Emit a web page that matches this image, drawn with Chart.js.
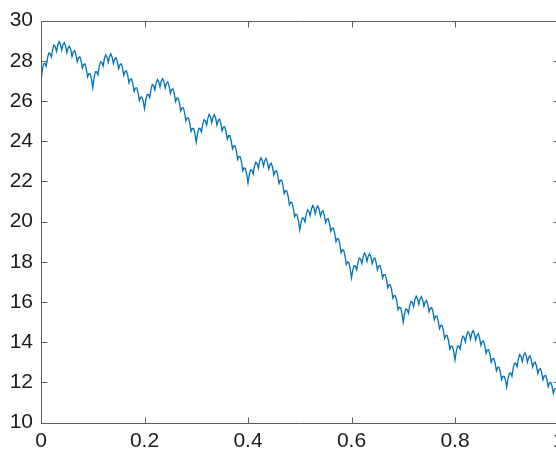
<!DOCTYPE html>
<html>
<head>
<meta charset="utf-8">
<script src="https://cdn.jsdelivr.net/npm/chart.js@4/dist/chart.umd.min.js"></script>
<style>
  html, body { margin: 0; padding: 0; background: #fff; overflow: hidden; }
  #wrap { width: 556px; height: 453px; overflow: hidden; }
  canvas { display: block; }
</style>
</head>
<body>
<div id="wrap"><canvas id="c" width="576" height="453"></canvas></div>
<script>
// ── Axis ticks ───────────────────────────────────────────────
const xTicks = [0, 0.2, 0.4, 0.6, 0.8, 1];
const yTicks = [10, 12, 14, 16, 18, 20, 22, 24, 26, 28, 30];

// ── Curve, sampled every 0.0025 on x (one row per 0.1 span) ──
const sampleStep = 0.0025;
const curveY = [
  27.00, 27.51, 27.85, 27.87, 27.72, 28.13, 28.38, 28.36, 28.18, 28.56, 28.78, 28.71, 28.47, 28.79, 28.95, 28.82, 28.53, 28.80, 28.90, 28.74, 28.41, 28.65, 28.72, 28.55, 28.21, 28.44, 28.50, 28.31, 27.95, 28.16, 28.20, 28.00, 27.63, 27.82, 27.85, 27.61, 27.20, 27.36, 27.35, 27.09,
  26.66, 27.14, 27.45, 27.46, 27.30, 27.71, 27.95, 27.92, 27.73, 28.10, 28.30, 28.19, 27.92, 28.21, 28.34, 28.18, 27.85, 28.08, 28.15, 27.96, 27.60, 27.81, 27.85, 27.65, 27.28, 27.47, 27.50, 27.28, 26.90, 27.08, 27.09, 26.86, 26.47, 26.64, 26.65, 26.42, 26.02, 26.19, 26.19, 25.99,
  25.62, 26.05, 26.32, 26.33, 26.17, 26.58, 26.82, 26.77, 26.55, 26.89, 27.07, 26.97, 26.70, 26.99, 27.12, 26.96, 26.64, 26.88, 26.95, 26.75, 26.38, 26.57, 26.60, 26.37, 25.97, 26.14, 26.14, 25.90, 25.50, 25.66, 25.66, 25.42, 25.01, 25.16, 25.15, 24.90, 24.49, 24.64, 24.62, 24.37,
  23.95, 24.38, 24.64, 24.63, 24.46, 24.85, 25.07, 25.02, 24.80, 25.15, 25.33, 25.21, 24.92, 25.20, 25.31, 25.14, 24.80, 25.03, 25.09, 24.88, 24.51, 24.70, 24.72, 24.49, 24.10, 24.27, 24.27, 24.03, 23.62, 23.77, 23.76, 23.51, 23.09, 23.24, 23.22, 22.96, 22.53, 22.67, 22.64, 22.36,
  21.92, 22.33, 22.58, 22.56, 22.37, 22.74, 22.95, 22.89, 22.66, 23.00, 23.17, 23.05, 22.76, 23.03, 23.14, 22.96, 22.62, 22.84, 22.90, 22.69, 22.31, 22.50, 22.52, 22.29, 21.89, 22.06, 22.06, 21.81, 21.39, 21.54, 21.52, 21.26, 20.83, 20.97, 20.94, 20.67, 20.24, 20.37, 20.33, 20.04,
  19.58, 19.96, 20.18, 20.16, 19.98, 20.36, 20.58, 20.52, 20.29, 20.62, 20.79, 20.67, 20.38, 20.66, 20.77, 20.60, 20.26, 20.48, 20.54, 20.32, 19.94, 20.12, 20.14, 19.91, 19.51, 19.67, 19.67, 19.42, 19.00, 19.15, 19.13, 18.87, 18.45, 18.59, 18.56, 18.29, 17.86, 17.99, 17.95, 17.65,
  17.19, 17.58, 17.81, 17.79, 17.60, 17.97, 18.18, 18.13, 17.91, 18.25, 18.43, 18.31, 18.02, 18.29, 18.40, 18.23, 17.90, 18.13, 18.19, 17.98, 17.60, 17.79, 17.81, 17.58, 17.19, 17.36, 17.36, 17.12, 16.71, 16.86, 16.85, 16.60, 16.18, 16.32, 16.30, 16.04, 15.61, 15.74, 15.71, 15.43,
  14.99, 15.40, 15.64, 15.62, 15.44, 15.82, 16.03, 15.98, 15.76, 16.11, 16.29, 16.17, 15.88, 16.15, 16.26, 16.10, 15.77, 16.00, 16.07, 15.87, 15.50, 15.69, 15.72, 15.50, 15.11, 15.29, 15.30, 15.07, 14.67, 14.83, 14.83, 14.59, 14.18, 14.33, 14.32, 14.07, 13.65, 13.80, 13.78, 13.53,
  13.11, 13.54, 13.80, 13.81, 13.65, 14.06, 14.30, 14.24, 14.01, 14.35, 14.52, 14.42, 14.15, 14.44, 14.57, 14.42, 14.10, 14.34, 14.42, 14.21, 13.84, 14.03, 14.06, 13.83, 13.44, 13.61, 13.62, 13.39, 13.00, 13.17, 13.18, 12.96, 12.57, 12.74, 12.75, 12.52, 12.13, 12.30, 12.30, 12.11,
  11.76, 12.19, 12.45, 12.46, 12.30, 12.71, 12.95, 12.94, 12.77, 13.16, 13.38, 13.29, 13.03, 13.33, 13.47, 13.32, 13.00, 13.24, 13.32, 13.12, 12.76, 12.96, 13.00, 12.80, 12.44, 12.64, 12.68, 12.48, 12.12, 12.32, 12.35, 12.15, 11.78, 11.97, 12.00, 11.81, 11.45, 11.66, 11.70, 11.63,
  11.40,
];

const LINE_BLUE = '#0072BD';
const AXIS_GREY = '#5e5e5e';
const TEXT_DARK = '#1c1c1c';
const TICK_LEN = 6;

// box round the plot with inward tick marks on all four sides
const boxAxes = {
  id: 'boxAxes',
  afterDatasetsDraw(chart) {
    const { ctx, chartArea: a, scales: { x, y } } = chart;
    const snap = v => Math.round(v) + 0.5;
    const L = snap(a.left), R = snap(a.right), T = snap(a.top), B = snap(a.bottom);
    ctx.save();
    ctx.strokeStyle = AXIS_GREY;
    ctx.lineWidth = 1;
    ctx.beginPath();
    ctx.rect(L, T, R - L, B - T);
    for (const v of xTicks) {
      const px = snap(x.getPixelForValue(v));
      ctx.moveTo(px, B); ctx.lineTo(px, B - TICK_LEN);
      ctx.moveTo(px, T); ctx.lineTo(px, T + TICK_LEN);
    }
    for (const v of yTicks) {
      const py = snap(y.getPixelForValue(v));
      ctx.moveTo(L, py); ctx.lineTo(L + TICK_LEN, py);
      ctx.moveTo(R, py); ctx.lineTo(R - TICK_LEN, py);
    }
    ctx.stroke();
    ctx.restore();
  },
};

const tickFont = { family: '"Liberation Sans", Arial, Helvetica, sans-serif', size: 21 };

new Chart(document.getElementById('c'), {
  type: 'line',
  plugins: [boxAxes],
  data: {
    datasets: [{
      data: curveY.map((y, i) => ({ x: i * sampleStep, y })),
      borderColor: LINE_BLUE,
      borderWidth: 1.3,
      pointRadius: 0,
      tension: 0,
      fill: false,
    }],
  },
  options: {
    responsive: false,
    animation: false,
    devicePixelRatio: 1,
    layout: { padding: { top: 15, right: 17.5, left: 0, bottom: 0 } },
    plugins: { legend: { display: false }, tooltip: { enabled: false } },
    scales: {
      x: {
        type: 'linear',
        min: 0, max: 1,
        afterBuildTicks(s) { s.ticks = xTicks.map(v => ({ value: v })); },
        afterFit(s) { s.height = 30.5; },
        grid: { display: false, drawTicks: false },
        border: { display: false },
        ticks: {
          color: TEXT_DARK, font: tickFont, padding: 6,
          maxRotation: 0, autoSkip: false,
          callback: v => String(v),
        },
      },
      y: {
        type: 'linear',
        min: 10, max: 30,
        afterBuildTicks(s) { s.ticks = yTicks.map(v => ({ value: v })); },
        afterFit(s) { s.width = 41; },
        grid: { display: false, drawTicks: false },
        border: { display: false },
        ticks: {
          color: TEXT_DARK, font: tickFont, padding: 8,
          autoSkip: false,
          callback: v => String(v),
        },
      },
    },
  },
});
</script>
</body>
</html>
